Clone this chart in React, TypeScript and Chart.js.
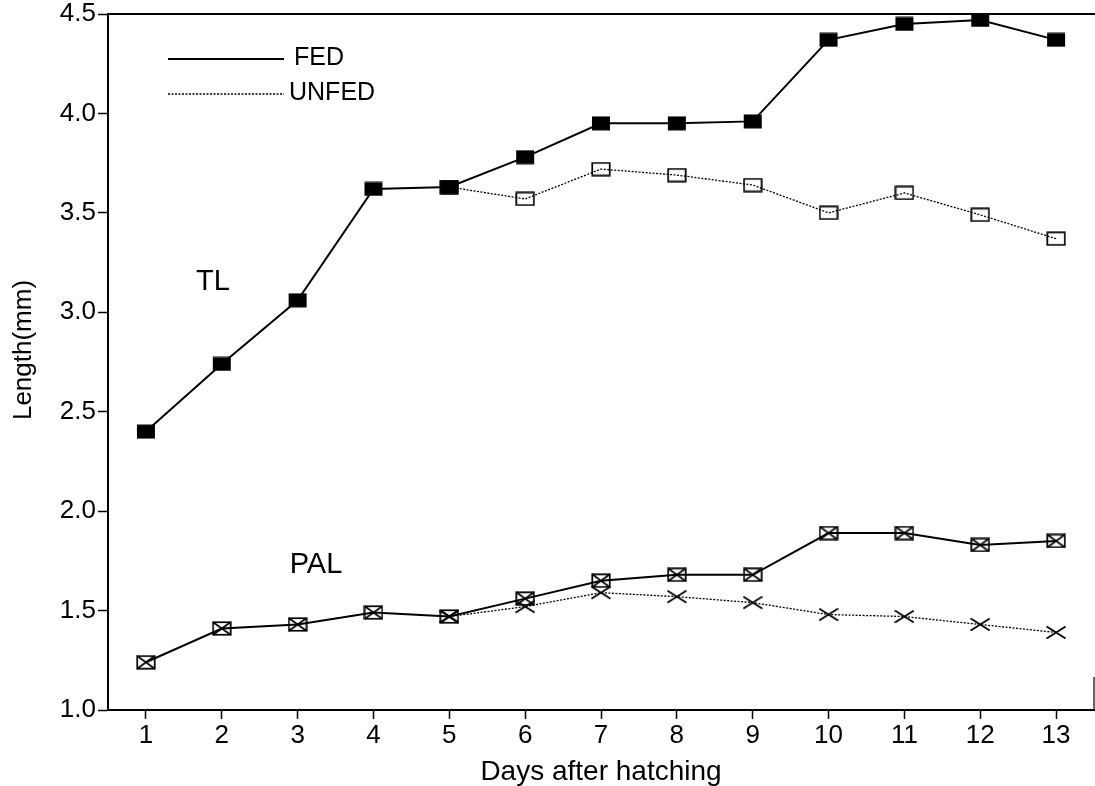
import React, { useEffect, useRef } from "react";
import { Chart, registerables } from "chart.js";

Chart.register(...registerables);

const days = ["1", "2", "3", "4", "5", "6", "7", "8", "9", "10", "11", "12", "13"];
const yTicks = [1.0, 1.5, 2.0, 2.5, 3.0, 3.5, 4.0, 4.5];
const tlFed = [2.40, 2.74, 3.06, 3.62, 3.63, 3.78, 3.95, 3.95, 3.96, 4.37, 4.45, 4.47, 4.37];
const tlUnfed = [null, null, null, null, 3.63, 3.57, 3.72, 3.69, 3.64, 3.50, 3.60, 3.49, 3.37];
const palFed = [1.24, 1.41, 1.43, 1.49, 1.47, 1.56, 1.65, 1.68, 1.68, 1.89, 1.89, 1.83, 1.85];
const palUnfed = [null, null, null, null, 1.47, 1.52, 1.59, 1.57, 1.54, 1.48, 1.47, 1.43, 1.39];

const FONT = "'Liberation Sans', Arial, Helvetica, sans-serif";

function makeMarker(kind: string): HTMLCanvasElement {
  const c = document.createElement("canvas");
  const w = 20, h = 15;
  c.width = w; c.height = h;
  const ctx = c.getContext("2d")!;
  ctx.strokeStyle = "#000";
  ctx.fillStyle = "#000";
  ctx.lineWidth = 1.7;
  const x0 = 1, y0 = 1, x1 = 19, y1 = 14;
  if (kind === "filled") {
    ctx.fillRect(1, 0.5, 18, 14);
  } else if (kind === "open") {
    ctx.strokeRect(x0 + 0.25, y0 + 0.25, x1 - x0 - 0.5, y1 - y0 - 0.5);
  } else if (kind === "boxx") {
    ctx.strokeRect(x0 + 0.25, y0 + 0.25, x1 - x0 - 0.5, y1 - y0 - 0.5);
    ctx.beginPath();
    ctx.moveTo(x0, y0); ctx.lineTo(x1, y1);
    ctx.moveTo(x1, y0); ctx.lineTo(x0, y1);
    ctx.stroke();
  } else if (kind === "x") {
    ctx.lineWidth = 1.8;
    ctx.beginPath();
    ctx.moveTo(0.5, 1.5); ctx.lineTo(19.5, 13.5);
    ctx.moveTo(19.5, 1.5); ctx.lineTo(0.5, 13.5);
    ctx.stroke();
  }
  return c;
}

const annotations = {
  id: "annotations",
  afterDraw(chart: any) {
    const ctx = chart.ctx as CanvasRenderingContext2D;
    const a = chart.chartArea;
    ctx.save();
    ctx.strokeStyle = "#000";
    ctx.lineWidth = 1.8;
    // top border
    ctx.beginPath();
    ctx.moveTo(a.left, a.top);
    ctx.lineTo(1095, a.top);
    ctx.stroke();
    // partial right border
    ctx.lineWidth = 1.2;
    ctx.beginPath();
    ctx.moveTo(a.right, 677);
    ctx.lineTo(a.right, a.bottom);
    ctx.stroke();

    ctx.fillStyle = "#000";
    // legend
    ctx.lineWidth = 1.8;
    ctx.setLineDash([]);
    ctx.beginPath();
    ctx.moveTo(168, 59);
    ctx.lineTo(284, 59);
    ctx.stroke();
    ctx.lineWidth = 1.3;
    ctx.setLineDash([2, 1.5]);
    ctx.beginPath();
    ctx.moveTo(168, 94);
    ctx.lineTo(284, 94);
    ctx.stroke();
    ctx.setLineDash([]);
    ctx.font = `25px ${FONT}`;
    ctx.textAlign = "left";
    ctx.textBaseline = "middle";
    ctx.fillText("FED", 294, 58);
    ctx.fillText("UNFED", 289, 93);

    // series labels
    ctx.font = `29px ${FONT}`;
    ctx.textAlign = "center";
    ctx.fillText("TL", 213, 282);
    ctx.fillText("PAL", 316, 565);

    // axis titles
    ctx.font = `28px ${FONT}`;
    ctx.textBaseline = "alphabetic";
    ctx.fillText("Days after hatching", (a.left + a.right) / 2, 780);

    ctx.save();
    ctx.translate(31, 350);
    ctx.rotate(-Math.PI / 2);
    ctx.font = `26px ${FONT}`;
    ctx.textAlign = "center";
    ctx.textBaseline = "alphabetic";
    ctx.fillText("Length(mm)", 0, 0);
    ctx.restore();

    ctx.restore();
  },
};

export default function App() {
  const ref = useRef<HTMLCanvasElement | null>(null);

  useEffect(() => {
    if (!ref.current) return;
    const filled = makeMarker("filled");
    const open = makeMarker("open");
    const boxx = makeMarker("boxx");
    const xm = makeMarker("x");

    const common = { pointRadius: 0.5, pointBorderWidth: 0, pointHoverRadius: 0.5, tension: 0 };

    const chart = new Chart(ref.current, {
      type: "line",
      data: {
        labels: days,
        datasets: [
          {
            label: "TL FED",
            data: tlFed,
            borderColor: "#000",
            borderWidth: 2,
            pointStyle: filled as any,
            ...common,
          },
          {
            label: "PAL FED",
            data: palFed,
            borderColor: "#000",
            borderWidth: 2,
            pointStyle: boxx as any,
            ...common,
          },
          {
            label: "TL UNFED",
            data: tlUnfed,
            borderColor: "#000",
            borderWidth: 1.3,
            borderDash: [2, 1.5],
            pointStyle: open as any,
            ...common,
          },
          {
            label: "PAL UNFED",
            data: palUnfed,
            borderColor: "#000",
            borderWidth: 1.3,
            borderDash: [2, 1.5],
            pointStyle: xm as any,
            ...common,
          },
        ],
      },
      options: {
        animation: false,
        responsive: false,
        devicePixelRatio: 1,
        layout: { padding: { top: 14, right: 1, left: 0, bottom: 0 } },
        plugins: {
          legend: { display: false },
          tooltip: { enabled: false },
          title: { display: false },
        },
        scales: {
          x: {
            type: "category",
            offset: true,
            grid: {
              display: true,
              offset: false,
              drawOnChartArea: false,
              drawTicks: true,
              tickLength: 9,
              tickWidth: 1.5,
              tickColor: "#000",
            },
            border: { display: true, color: "#000", width: 2 },
            ticks: {
              color: "#000",
              font: { family: FONT, size: 26 },
              padding: 1,
              maxRotation: 0,
              autoSkip: false,
            },
            afterFit: (scale: any) => {
              scale.height = 76;
              scale.paddingLeft = 0;
              scale.paddingRight = 0;
            },
          },
          y: {
            type: "linear",
            min: 1,
            max: 4.5,
            grid: {
              display: true,
              drawOnChartArea: false,
              drawTicks: true,
              tickLength: 10,
              tickWidth: 1.5,
              tickColor: "#000",
            },
            border: { display: true, color: "#000", width: 2 },
            ticks: {
              color: "#000",
              font: { family: FONT, size: 26 },
              padding: 2,
              callback: (v: any) => Number(v).toFixed(1),
            },
            afterBuildTicks: (scale: any) => {
              scale.ticks = yTicks.map((v) => ({ value: v }));
            },
            afterFit: (scale: any) => {
              scale.width = 108;
              scale.paddingTop = 0;
              scale.paddingBottom = 0;
            },
          },
        },
      },
      plugins: [annotations],
    });
    return () => chart.destroy();
  }, []);

  return (
    <div style={{ position: "absolute", left: 0, top: 0, width: 1095, height: 786, background: "#fff" }}>
      <canvas ref={ref} width={1095} height={786} style={{ display: "block" }} />
    </div>
  );
}
